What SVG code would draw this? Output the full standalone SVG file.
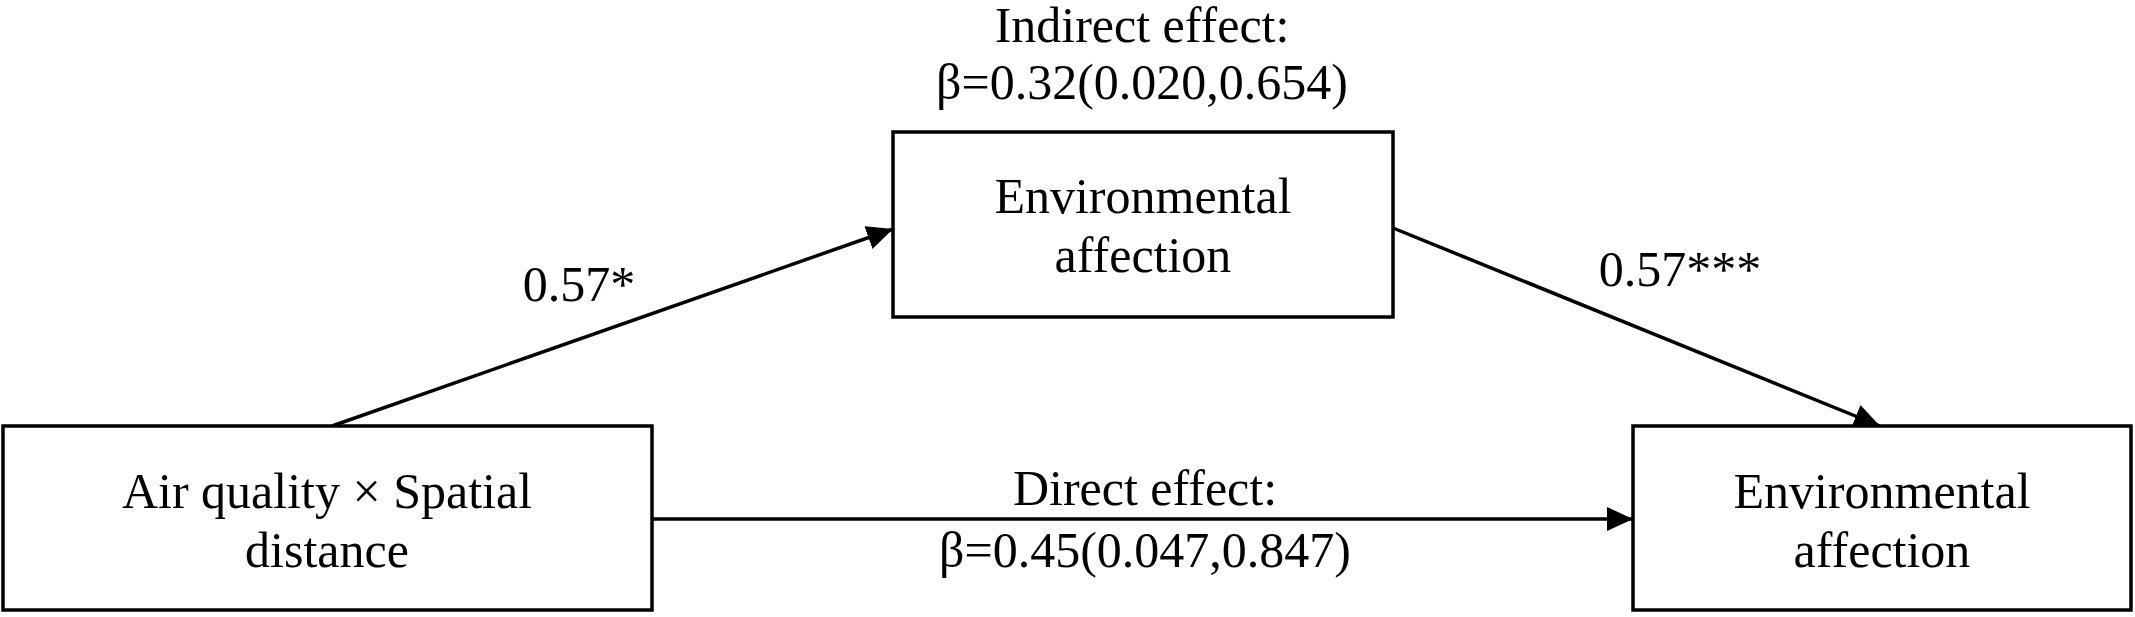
<svg xmlns="http://www.w3.org/2000/svg" width="2135" height="617" viewBox="0 0 2135 617">
<style>
.box{fill:#fff;stroke:#000;stroke-width:3.5}
.t{font-family:"Liberation Serif","Times New Roman",serif;font-size:50px;fill:#000;text-anchor:middle}
.c{stroke:#000;stroke-width:3.5;fill:none}
</style>
<defs>
<marker id="ah" markerUnits="userSpaceOnUse" markerWidth="28" markerHeight="24" refX="26" refY="12" orient="auto">
<path d="M0,0 L26,12 L0,24 z" fill="#000"/>
</marker>
</defs>
<rect width="2135" height="617" fill="#fff"/>
<g id="connectors">
<line class="c" x1="332" y1="426" x2="893" y2="229" marker-end="url(#ah)"/>
<line class="c" x1="1393" y1="228" x2="1880" y2="426" marker-end="url(#ah)"/>
<line class="c" x1="652" y1="519" x2="1633" y2="519" marker-end="url(#ah)"/>
<text class="t" x="579" y="301">0.57*</text>
<text class="t" x="1680" y="286">0.57***</text>
<text class="t" x="1145" y="505">Direct effect:</text>
<text class="t" x="1145" y="567">β=0.45(0.047,0.847)</text>
</g>
<g id="indirect-label">
<text class="t" x="1142" y="42">Indirect effect:</text>
<text class="t" x="1142" y="99">β=0.32(0.020,0.654)</text>
</g>
<g id="node-mediator">
<rect class="box" x="893" y="132" width="500" height="185"/>
<text class="t" x="1143" y="213">Environmental</text>
<text class="t" x="1143" y="272">affection</text>
</g>
<g id="node-predictor">
<rect class="box" x="3" y="426" width="649" height="184"/>
<text class="t" x="327" y="508">Air quality × Spatial</text>
<text class="t" x="327" y="567">distance</text>
</g>
<g id="node-outcome">
<rect class="box" x="1633" y="426" width="498" height="184"/>
<text class="t" x="1882" y="508">Environmental</text>
<text class="t" x="1882" y="567">affection</text>
</g>
</svg>
